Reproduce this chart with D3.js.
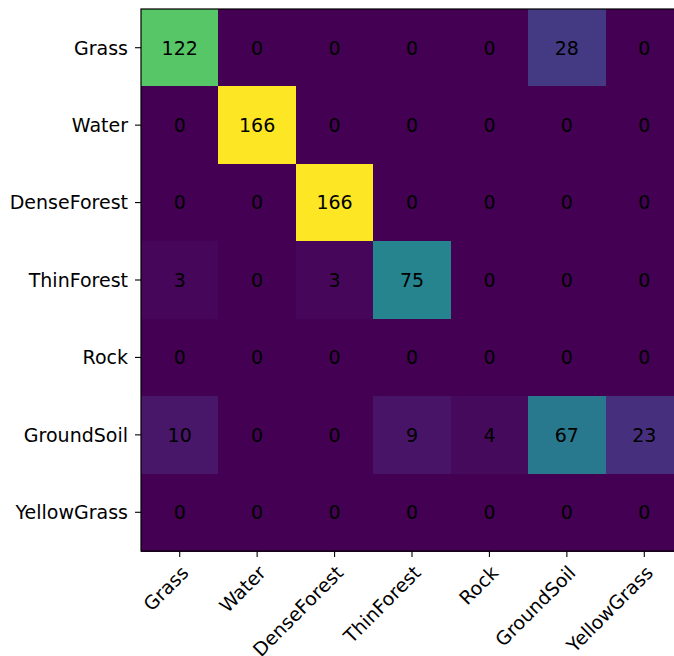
<!DOCTYPE html>
<html>
<head>
<meta charset="utf-8">
<script src="https://cdn.jsdelivr.net/npm/d3@7"></script>
<style>
  html, body { margin: 0; padding: 0; background: #fff; overflow: hidden; }
  text { font-family: "DejaVu Sans", sans-serif; }
</style>
</head>
<body>
<svg id="chart" width="674" height="656"></svg>
<script>
const classes = ['Grass', 'Water', 'DenseForest', 'ThinForest', 'Rock', 'GroundSoil', 'YellowGrass'];

// rows = true class, columns = predicted class
const matrix = [
    [122, 0, 0, 0, 0, 28, 0],
    [0, 166, 0, 0, 0, 0, 0],
    [0, 0, 166, 0, 0, 0, 0],
    [3, 0, 3, 75, 0, 0, 0],
    [0, 0, 0, 0, 0, 0, 0],
    [10, 0, 0, 9, 4, 67, 23],
    [0, 0, 0, 0, 0, 0, 0],
];

const svg = d3.select('#chart');
const plotLeft = 141, plotTop = 9, plotSize = 542;
const fontSize = 19;

const xs = d3.scaleBand().domain(classes).range([plotLeft, plotLeft + plotSize]);
const ys = d3.scaleBand().domain(classes).range([plotTop, plotTop + plotSize]);
const maxVal = d3.max(matrix.flat());
const color = d3.scaleSequential(d3.interpolateViridis).domain([0, maxVal]);

const cells = [];
matrix.forEach((row, i) => row.forEach((v, j) => cells.push({ row: classes[i], col: classes[j], value: v })));

svg.append('g')
    .attr('shape-rendering', 'crispEdges')
    .selectAll('rect')
    .data(cells)
    .enter()
    .append('rect')
    .attr('x', d => xs(d.col))
    .attr('y', d => ys(d.row))
    .attr('width', xs.bandwidth() + 0.6)
    .attr('height', ys.bandwidth() + 0.6)
    .attr('fill', d => color(d.value));

svg.append('g')
    .selectAll('text')
    .data(cells)
    .enter()
    .append('text')
    .attr('x', d => xs(d.col) + xs.bandwidth() / 2)
    .attr('y', d => ys(d.row) + ys.bandwidth() / 2)
    .attr('dy', '0.36em')
    .attr('text-anchor', 'middle')
    .attr('font-size', fontSize)
    .attr('fill', '#000')
    .text(d => d.value);

// frame
svg.append('rect')
    .attr('x', plotLeft).attr('y', plotTop)
    .attr('width', plotSize).attr('height', plotSize)
    .attr('fill', 'none').attr('stroke', '#000').attr('stroke-width', 1.2);

const yAxis = svg.append('g')
    .attr('transform', `translate(${plotLeft},0)`)
    .call(d3.axisLeft(ys).tickSize(6).tickPadding(7));
yAxis.select('.domain').remove();
yAxis.selectAll('line').attr('stroke-width', 1.1);
yAxis.selectAll('text').attr('font-size', fontSize).attr('fill', '#000').attr('dy', '0.36em');

const xAxis = svg.append('g')
    .attr('transform', `translate(0,${plotTop + plotSize})`)
    .call(d3.axisBottom(xs).tickSize(6).tickPadding(5));
xAxis.select('.domain').remove();
xAxis.selectAll('line').attr('stroke-width', 1.1);
xAxis.selectAll('text')
    .attr('font-size', fontSize)
    .attr('fill', '#000')
    .attr('text-anchor', 'end')
    .attr('x', 0)
    .attr('y', 0)
    .attr('dy', 0)
    .attr('transform', 'translate(10,23) rotate(-45)');
</script>
</body>
</html>
